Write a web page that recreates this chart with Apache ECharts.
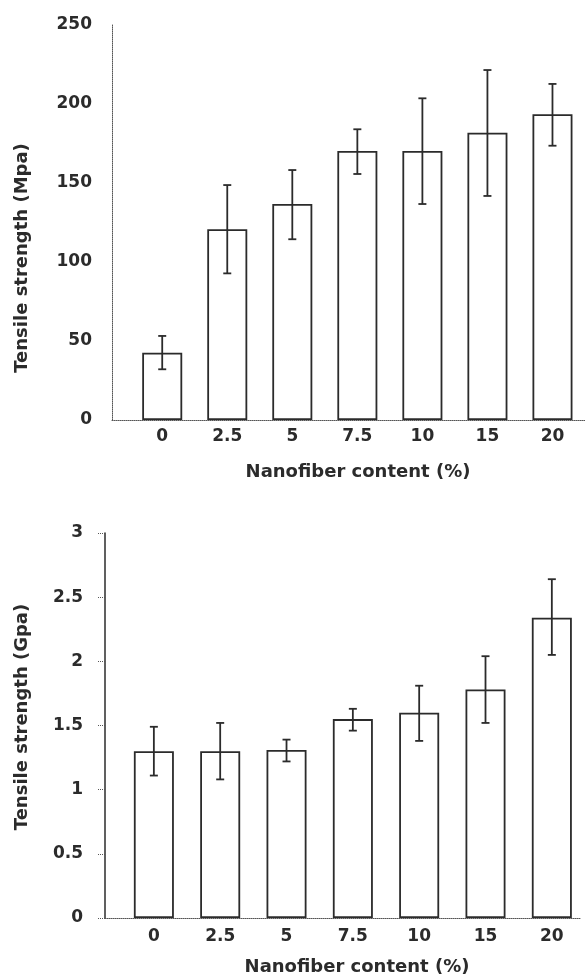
<!DOCTYPE html>
<html>
<head>
<meta charset="utf-8">
<script src="https://cdn.jsdelivr.net/npm/echarts@6/dist/echarts.min.js"></script>
<style>
  html, body { margin: 0; padding: 0; background: #fff; }
  #chart { width: 585px; height: 978px; }
</style>
</head>
<body>
<div id="chart"></div>
<script>
// nanofiber content categories (same for both panels)
var categories = ['0', '2.5', '5', '7.5', '10', '15', '20'];

// top panel: tensile strength (Mpa)
var mpaMean = [42.6, 120.7, 136.7, 170.3, 170.3, 181.8, 193.5];
var mpaLow  = [32.1, 92.8, 114.4, 155.7, 136.7, 141.8, 173.6];
var mpaHigh = [53.2, 148.7, 158.2, 184.0, 203.6, 221.5, 212.7];

// bottom panel: tensile strength (Gpa)
var gpaMean = [1.30, 1.30, 1.31, 1.55, 1.60, 1.78, 2.34];
var gpaLow  = [1.11, 1.08, 1.22, 1.46, 1.38, 1.52, 2.05];
var gpaHigh = [1.49, 1.52, 1.39, 1.63, 1.81, 2.04, 2.64];

var ink = '#2b2b2b';
var fontFamily = 'DejaVu Sans';

function errData(low, high) {
    return categories.map(function (c, i) { return [i, low[i], high[i]]; });
}

function errRender(params, api) {
    var lo = api.coord([api.value(0), api.value(1)]);
    var hi = api.coord([api.value(0), api.value(2)]);
    var cap = 4;
    var st = { stroke: ink, lineWidth: 1.8 };
    return {
        type: 'group',
        children: [
            { type: 'line', shape: { x1: lo[0], y1: lo[1], x2: hi[0], y2: hi[1] }, style: st },
            { type: 'line', shape: { x1: hi[0] - cap, y1: hi[1], x2: hi[0] + cap, y2: hi[1] }, style: st },
            { type: 'line', shape: { x1: lo[0] - cap, y1: lo[1], x2: lo[0] + cap, y2: lo[1] }, style: st }
        ]
    };
}

var labelFont = { color: ink, fontFamily: fontFamily, fontWeight: 'bold', fontSize: 17 };
var titleFont = 'bold 18px "DejaVu Sans"';

var myChart = echarts.init(document.getElementById('chart'), null, { renderer: 'canvas' });
myChart.setOption({
    animation: false,
    grid: [
        { left: 112, top: 25, width: 473, height: 395 },      // top frame
        { left: 129.7, top: 25, width: 467, height: 395 },    // top bars
        { left: 105, top: 533, width: 475, height: 385 },     // bottom frame
        { left: 120.7, top: 533, width: 467, height: 385 }    // bottom bars
    ],
    xAxis: [
        {
            gridIndex: 0, type: 'value', min: 0, max: 1,
            axisLine: { show: true, onZero: false, lineStyle: { color: '#555', width: 1, type: [1, 1] } },
            axisTick: { show: false }, axisLabel: { show: false }, splitLine: { show: false }
        },
        {
            gridIndex: 1, type: 'category', data: categories,
            axisLine: { show: false }, axisTick: { show: false },
            axisLabel: Object.assign({ margin: 8 }, labelFont)
        },
        {
            gridIndex: 2, type: 'value', min: 0, max: 1,
            axisLine: { show: true, onZero: false, lineStyle: { color: '#555', width: 1, type: [1, 1] } },
            axisTick: { show: false }, axisLabel: { show: false }, splitLine: { show: false }
        },
        {
            gridIndex: 3, type: 'category', data: categories,
            axisLine: { show: false }, axisTick: { show: false },
            axisLabel: Object.assign({ margin: 10 }, labelFont)
        }
    ],
    yAxis: [
        {
            gridIndex: 0, type: 'value', min: 0, max: 250, interval: 50,
            axisLine: { show: true, lineStyle: { color: '#555', width: 1, type: [1, 1] } },
            axisTick: { show: false }, splitLine: { show: false },
            axisLabel: Object.assign({ margin: 20 }, labelFont)
        },
        { gridIndex: 1, type: 'value', min: 0, max: 250, show: false },
        {
            gridIndex: 2, type: 'value', min: 0, max: 3, interval: 0.5,
            axisLine: { show: true, lineStyle: { color: ink, width: 1.5 } },
            axisTick: { show: true, length: 8, lineStyle: { color: '#555', width: 1, type: [1, 1] } },
            splitLine: { show: false },
            axisLabel: Object.assign({ margin: 22 }, labelFont)
        },
        { gridIndex: 3, type: 'value', min: 0, max: 3, show: false }
    ],
    graphic: [
        {
            type: 'text', x: 22, y: 258, rotation: Math.PI / 2,
            style: { text: 'Tensile strength (Mpa)', font: titleFont, fill: ink, align: 'center', verticalAlign: 'middle' }
        },
        {
            type: 'text', x: 358, y: 472,
            style: { text: 'Nanofiber content (%)', font: titleFont, fill: ink, align: 'center', verticalAlign: 'middle' }
        },
        {
            type: 'text', x: 22, y: 717, rotation: Math.PI / 2,
            style: { text: 'Tensile strength (Gpa)', font: titleFont, fill: ink, align: 'center', verticalAlign: 'middle' }
        },
        {
            type: 'text', x: 357, y: 967,
            style: { text: 'Nanofiber content (%)', font: titleFont, fill: ink, align: 'center', verticalAlign: 'middle' }
        }
    ],
    series: [
        {
            type: 'bar', xAxisIndex: 1, yAxisIndex: 1, data: mpaMean, barWidth: 40,
            itemStyle: { color: '#fff', borderColor: ink, borderWidth: 1.8 }
        },
        {
            type: 'custom', xAxisIndex: 1, yAxisIndex: 1, data: errData(mpaLow, mpaHigh),
            encode: { x: 0, y: [1, 2] }, renderItem: errRender, z: 5
        },
        {
            type: 'bar', xAxisIndex: 3, yAxisIndex: 3, data: gpaMean, barWidth: 40,
            itemStyle: { color: '#fff', borderColor: ink, borderWidth: 1.8 }
        },
        {
            type: 'custom', xAxisIndex: 3, yAxisIndex: 3, data: errData(gpaLow, gpaHigh),
            encode: { x: 0, y: [1, 2] }, renderItem: errRender, z: 5
        }
    ]
});
</script>
</body>
</html>
